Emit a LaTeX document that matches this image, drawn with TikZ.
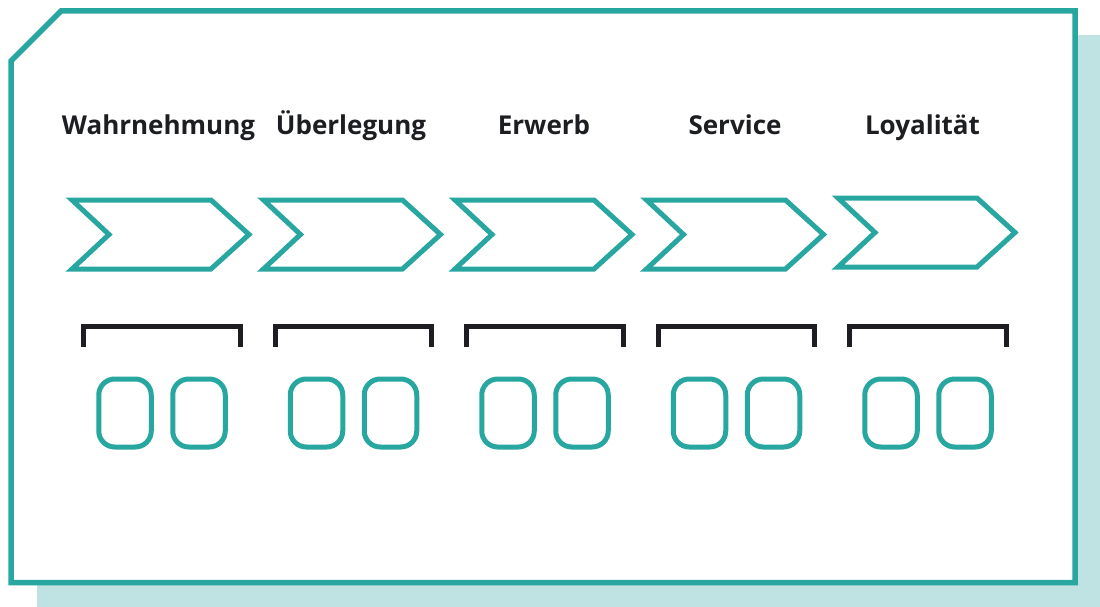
\documentclass[tikz,border=0pt]{standalone}
\usepackage{fontspec}
\setmainfont{Open Sans}
\definecolor{teal1}{RGB}{40,166,160}
\definecolor{shadow1}{RGB}{190,227,226}
\definecolor{dark1}{RGB}{30,30,34}
\definecolor{txt1}{RGB}{28,30,34}
\tikzset{
  frame/.style={draw=teal1, line width=5.5pt, fill=white, line join=miter},
  chev/.style={draw=teal1, line width=5pt, line join=miter},
  brack/.style={draw=dark1, line width=5pt, line join=miter},
  slot/.style={draw=teal1, line width=5pt, rounded corners=16pt, minimum width=52.5pt, minimum height=68pt, inner sep=0pt},
  stage/.style={font=\fontsize{26}{30}\selectfont\bfseries, text=txt1, inner sep=0pt}
}
\begin{document}
\begin{tikzpicture}[x=1pt,y=-1pt]
\useasboundingbox (0,0) rectangle (1100,607);
% shadow
\fill[shadow1] (37,35) rectangle (1100,607);
% frame
\draw[frame] (11,61) -- (61,11) -- (1075,11) -- (1075,582.5) -- (11,582.5) -- cycle;
% labels
\node[stage, anchor=base] (l1) at (158.5,135) {Wahrnehmung};
\node[stage, anchor=base] (l2) at (351,135) {Überlegung};
\node[stage, anchor=base] (l3) at (544,135) {Erwerb};
\node[stage, anchor=base] (l4) at (735,135) {Service};
\node[stage, anchor=base] (l5) at (922.5,135) {Loyalität};
% chevrons, brackets, slots
\foreach \i/\dy in {0/0,1/0,2/0,3/0,4/-2} {
  \pgfmathsetmacro{\xo}{72+191.5*\i}
  \draw[chev] (\xo,200+\dy) -- ++(139,0) -- ++(38,34.5) -- ++(-38,34.5) -- ++(-139,0) -- ++(37,-34.5) -- cycle;
  \pgfmathsetmacro{\xb}{83.5+191.5*\i}
  \draw[brack] (\xb,347) -- (\xb,326) -- ++(156.5,0) -- ++(0,21);
  \node[slot] (a\i) at ({125+191.5*\i},413) {};
  \node[slot] (b\i) at ({199+191.5*\i},413) {};
}
\end{tikzpicture}
\end{document}
